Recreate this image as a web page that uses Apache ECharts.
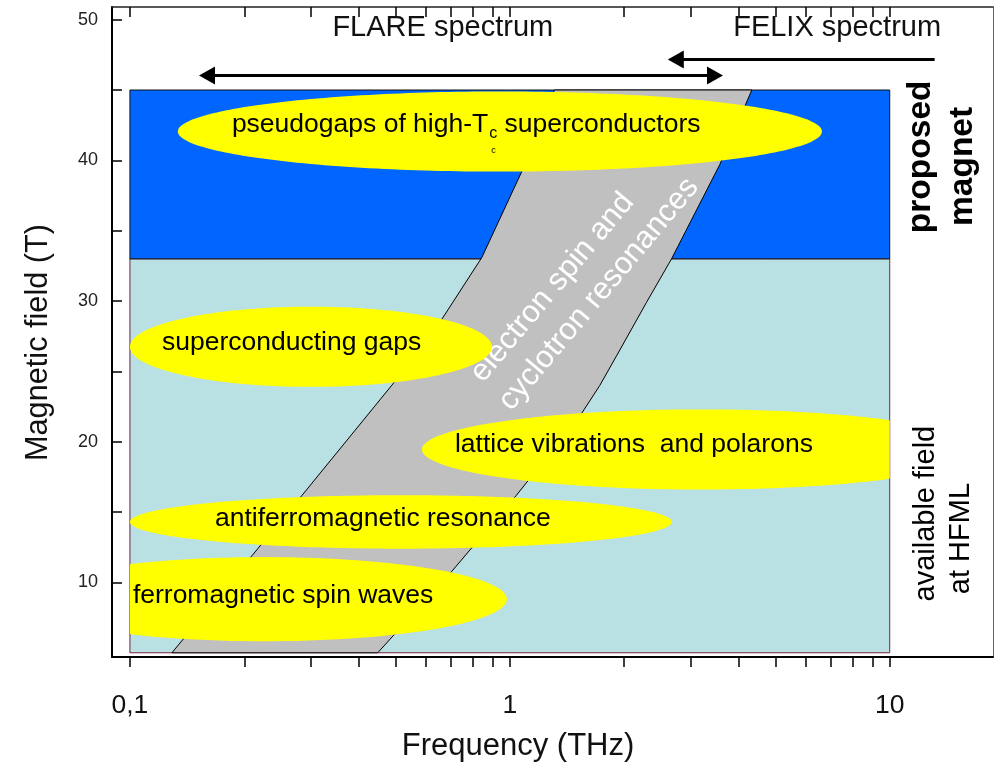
<!DOCTYPE html>
<html><head><meta charset="utf-8">
<script src="https://cdn.jsdelivr.net/npm/echarts@6/dist/echarts.min.js"></script>
<style>html,body{margin:0;padding:0;background:#fff}#c{width:995px;height:767px}</style>
</head><body><div id="c"></div>
<script>
const FONT = '"Liberation Sans", Arial, Helvetica, sans-serif';

// ---- axes ----
const freqExtent = [0.0897, 18.7];
const fieldExtent = [4.7, 50.9];
const xTickValues = [0.1, 1, 10];
const xTickLabels = ['0,1', '1', '10'];
const xAllTicks = [0.1, 0.2, 0.3, 0.4, 0.5, 0.6, 0.7, 0.8, 0.9, 1, 2, 3, 4, 5, 6, 7, 8, 9, 10];
const yTickValues = [10, 20, 30, 40, 50];
const yAllTicks = [10, 15, 20, 25, 30, 35, 40, 45, 50];

// ---- field regions ----
const regionFreq = [0.1, 10];
const availableField = [5, 33];
const proposedField = [33, 45];

// ---- electron spin / cyclotron resonance band ----
const bandLeftFreq = [0.129, 0.217, 0.284, 0.492, 0.662, 0.844, 1.075, 1.31];
const bandLeftField = [5, 12.4, 16.2, 24.1, 28.7, 33.1, 39.2, 45];
const bandRightFreq = [0.449, 0.704, 1.041, 1.544, 1.725, 1.909, 2.289, 2.665, 3.57, 4.335];
const bandRightField = [5, 10.8, 16.2, 22.0, 24.0, 26.1, 29.9, 33.0, 39.7, 45];
const bandText = ['electron spin and', 'cyclotron resonances'];
const bandTextFreq = [1.294, 1.715];
const bandTextField = [30.96, 30.5];

// ---- phenomena (ellipses) ----
const phenomena = ['pseudogaps of high-T', 'superconducting gaps', 'lattice vibrations  and polarons', 'antiferromagnetic resonance', 'ferromagnetic spin waves'];
const phenFreqMin = [0.1337, 0.1, 0.587, 0.1, 0.0517];
const phenFreqMax = [6.63, 0.897, 17.15, 2.67, 0.982];
const phenFieldMin = [39.2, 23.9, 16.6, 12.4, 5.82];
const phenFieldMax = [44.9, 29.6, 22.3, 16.2, 11.8];
const phenLabelFreq = [0.1855, 0.1214, 0.717, 0.1674, 0.1018];
const phenLabelField = [42.55, 27.02, 19.79, 14.54, 9.08];
const pseudogapTail = ['c', ' superconductors'];

// ---- spectra ----
const flareFreq = [0.152, 3.64];
const flareField = 46.03;
const felixFreq = [13.13, 2.605];
const felixField = 47.16;
const spectrumNames = ['FLARE spectrum', 'FELIX spectrum'];
const spectrumNameFreq = [0.666, 7.27];
const spectrumNameField = [49.43, 49.43];

// ---- side annotations ----
const sideText = ['proposed', 'magnet', 'available field', 'at HFML'];
const sideFreq = [12.06, 15.56, 12.44, 15.38];
const sideField = [40.25, 39.57, 14.89, 13.12];

const chart = echarts.init(document.getElementById('c'));

const mctx = document.createElement('canvas').getContext('2d');
function textWidth(t, size) { mctx.font = 'normal ' + size + 'px "Liberation Sans"'; return mctx.measureText(t).width; }

function near(v, arr) { let b = 0; for (let i = 1; i < arr.length; i++) if (Math.abs(Math.log(arr[i] / v)) < Math.abs(Math.log(arr[b] / v))) b = i; return b; }

const regionStyles = [
  { fill: '#B9E0E3', stroke: '#7b2140', lineWidth: 1 },
  { fill: '#0066FF', stroke: '#111', lineWidth: 1 }
];

const ellipseSeriesData = phenomena.map((n, i) => [phenFreqMin[i], phenFreqMax[i], phenFieldMin[i], phenFieldMax[i]]);

const option = {
  animation: false,
  backgroundColor: '#fff',
  grid: { left: 112, right: 2, top: 7, bottom: 108, containLabel: false },
  xAxis: [
    {
      type: 'log', logBase: 10, min: freqExtent[0], max: freqExtent[1], position: 'bottom',
      name: 'Frequency (THz)', nameLocation: 'middle', nameGap: 74,
      nameTextStyle: { fontFamily: FONT, fontSize: 31, color: '#111', padding: [0, 69, 0, 0] },
      axisLine: { show: true, onZero: false, lineStyle: { color: '#000', width: 2 } },
      axisTick: { show: true, inside: false, length: 10, lineStyle: { color: '#000', width: 1.5 }, customValues: xAllTicks },
      axisLabel: { show: true, margin: 35, fontFamily: FONT, fontSize: 26.5, color: '#111', customValues: xTickValues,
        formatter: v => xTickLabels[near(v, xTickValues)] },
      splitLine: { show: false }, minorTick: { show: false }
    },
    {
      type: 'log', logBase: 10, min: freqExtent[0], max: freqExtent[1], position: 'top',
      axisLine: { show: true, onZero: false, lineStyle: { color: '#222', width: 1.5 } },
      axisTick: { show: true, inside: true, length: 10, lineStyle: { color: '#000', width: 1.5 }, customValues: xAllTicks },
      axisLabel: { show: false }, splitLine: { show: false }
    }
  ],
  yAxis: [
    {
      type: 'value', min: fieldExtent[0], max: fieldExtent[1], position: 'left',
      name: 'Magnetic field (T)', nameLocation: 'middle', nameGap: 58,
      nameTextStyle: { fontFamily: FONT, fontSize: 30.7, color: '#111', padding: [0, 21, 0, 0] },
      axisLine: { show: true, onZero: false, lineStyle: { color: '#000', width: 2 } },
      axisTick: { show: true, inside: true, length: 10, lineStyle: { color: '#000', width: 1.5 }, customValues: yAllTicks },
      axisLabel: { show: true, margin: 14, fontFamily: FONT, fontSize: 18, color: '#222', customValues: yTickValues },
      splitLine: { show: false }
    },
    {
      type: 'value', min: fieldExtent[0], max: fieldExtent[1], position: 'right',
      axisLine: { show: true, onZero: false, lineStyle: { color: '#666', width: 1 } },
      axisTick: { show: false }, axisLabel: { show: false }, splitLine: { show: false }
    }
  ],
  series: [
    // field regions
    {
      type: 'custom', xAxisIndex: 0, yAxisIndex: 0,
      data: [[regionFreq[0], regionFreq[1], availableField[0], availableField[1]],
             [regionFreq[0], regionFreq[1], proposedField[0], proposedField[1]]],
      encode: { x: [0, 1], y: [2, 3] },
      renderItem: (params, api) => {
        const a = api.coord([api.value(0), api.value(3)]);
        const b = api.coord([api.value(1), api.value(2)]);
        return { type: 'rect', shape: { x: a[0], y: a[1], width: b[0] - a[0], height: b[1] - a[1] },
          style: regionStyles[params.dataIndex] };
      }
    },
    // resonance band
    {
      type: 'custom', xAxisIndex: 0, yAxisIndex: 0,
      data: [[bandLeftFreq[0], bandLeftField[0]]],
      renderItem: (params, api) => {
        const pts = [];
        for (let i = 0; i < bandLeftFreq.length; i++) pts.push(api.coord([bandLeftFreq[i], bandLeftField[i]]));
        for (let i = bandRightFreq.length - 1; i >= 0; i--) pts.push(api.coord([bandRightFreq[i], bandRightField[i]]));
        return { type: 'polygon', shape: { points: pts }, style: { fill: '#C0C0C0', stroke: '#000', lineWidth: 1 } };
      }
    },
    // band text
    {
      type: 'custom', xAxisIndex: 0, yAxisIndex: 0,
      data: bandText.map((t, i) => [bandTextFreq[i], bandTextField[i]]),
      renderItem: (params, api) => {
        const p = api.coord([api.value(0), api.value(1)]);
        return { type: 'text', x: p[0], y: p[1], rotation: 50 * Math.PI / 180,
          style: { text: bandText[params.dataIndex], fill: '#fff', fontFamily: FONT, fontSize: 31,
            align: 'center', verticalAlign: 'middle' } };
      }
    },
    // ellipses
    {
      type: 'custom', xAxisIndex: 0, yAxisIndex: 0,
      data: ellipseSeriesData,
      encode: { x: [0, 1], y: [2, 3] },
      renderItem: (params, api) => {
        const a = api.coord([api.value(0), api.value(3)]);
        const b = api.coord([api.value(1), api.value(2)]);
        const clipL = api.coord([regionFreq[0], availableField[0]])[0];
        const clipR = api.coord([regionFreq[1], availableField[0]])[0];
        const cx = (a[0] + b[0]) / 2, cy = (a[1] + b[1]) / 2;
        const rx = (b[0] - a[0]) / 2, ry = (b[1] - a[1]) / 2;
        const pts = [];
        for (let k = 0; k < 240; k++) {
          const t = k / 240 * Math.PI * 2;
          let x = cx + rx * Math.cos(t);
          const y = cy + ry * Math.sin(t);
          x = Math.min(Math.max(x, clipL), clipR);
          pts.push([x, y]);
        }
        return { type: 'polygon', shape: { points: pts }, style: { fill: '#FFFF00' } };
      }
    },
    // ellipse labels
    {
      type: 'custom', xAxisIndex: 0, yAxisIndex: 0,
      data: phenomena.map((n, i) => [phenLabelFreq[i], phenLabelField[i]]),
      renderItem: (params, api) => {
        const p = api.coord([api.value(0), api.value(1)]);
        const fs = 26.5;
        const base = { fill: '#000', fontFamily: FONT, fontSize: fs, align: 'left', verticalAlign: 'middle' };
        const txt = phenomena[params.dataIndex];
        if (params.dataIndex !== 0) {
          return { type: 'text', x: p[0], y: p[1], style: Object.assign({ text: txt }, base) };
        }
        const w1 = textWidth(txt, fs);
        const ws = textWidth(pseudogapTail[0], 16);
        return { type: 'group', children: [
          { type: 'text', x: p[0], y: p[1], style: Object.assign({ text: txt }, base) },
          { type: 'text', x: p[0] + w1 + 1, y: p[1] + 9, style: { text: pseudogapTail[0], fill: '#000', fontFamily: FONT, fontSize: 16, align: 'left', verticalAlign: 'middle' } },
          { type: 'text', x: p[0] + w1 + 3, y: p[1] + 26, style: { text: pseudogapTail[0], fill: '#000', fontFamily: FONT, fontSize: 9, align: 'left', verticalAlign: 'middle' } },
          { type: 'text', x: p[0] + w1 + ws + 1, y: p[1], style: Object.assign({ text: pseudogapTail[1] }, base) }
        ] };
      }
    },
    // spectrum arrows
    {
      type: 'custom', xAxisIndex: 0, yAxisIndex: 0,
      data: [[flareFreq[0], flareFreq[1], flareField, 2], [felixFreq[0], felixFreq[1], felixField, 1]],
      renderItem: (params, api) => {
        const p0 = api.coord([api.value(0), api.value(2)]);
        const p1 = api.coord([api.value(1), api.value(2)]);
        const both = api.value(3) === 2;
        const dir = p1[0] > p0[0] ? 1 : -1;
        const L = 16, H = 9;
        const children = [];
        const sx = both ? p0[0] + dir * (L - 2) : p0[0];
        const ex = p1[0] - dir * (L - 2);
        children.push({ type: 'line', shape: { x1: sx, y1: p0[1], x2: ex, y2: p1[1] }, style: { stroke: '#000', lineWidth: 3 } });
        children.push({ type: 'polygon', shape: { points: [[p1[0], p1[1]], [p1[0] - dir * L, p1[1] - H], [p1[0] - dir * L, p1[1] + H]] }, style: { fill: '#000' } });
        if (both) children.push({ type: 'polygon', shape: { points: [[p0[0], p0[1]], [p0[0] + dir * L, p0[1] - H], [p0[0] + dir * L, p0[1] + H]] }, style: { fill: '#000' } });
        return { type: 'group', children };
      }
    },
    // spectrum names
    {
      type: 'custom', xAxisIndex: 0, yAxisIndex: 0,
      data: spectrumNames.map((n, i) => [spectrumNameFreq[i], spectrumNameField[i]]),
      renderItem: (params, api) => {
        const p = api.coord([api.value(0), api.value(1)]);
        return { type: 'text', x: p[0], y: p[1], style: { text: spectrumNames[params.dataIndex], fill: '#111', fontFamily: FONT, fontSize: 29, align: 'center', verticalAlign: 'middle' } };
      }
    },
    // side annotations
    {
      type: 'custom', xAxisIndex: 0, yAxisIndex: 0,
      data: sideText.map((n, i) => [sideFreq[i], sideField[i]]),
      renderItem: (params, api) => {
        const p = api.coord([api.value(0), api.value(1)]);
        const bold = params.dataIndex < 2;
        return { type: 'text', x: p[0], y: p[1], rotation: Math.PI / 2,
          style: { text: sideText[params.dataIndex], fill: '#000', fontFamily: FONT, fontSize: bold ? 33.5 : 29,
            fontWeight: bold ? 'bold' : 'normal', align: 'center', verticalAlign: 'middle' } };
      }
    }
  ]
};
chart.setOption(option);
</script>
</body></html>
